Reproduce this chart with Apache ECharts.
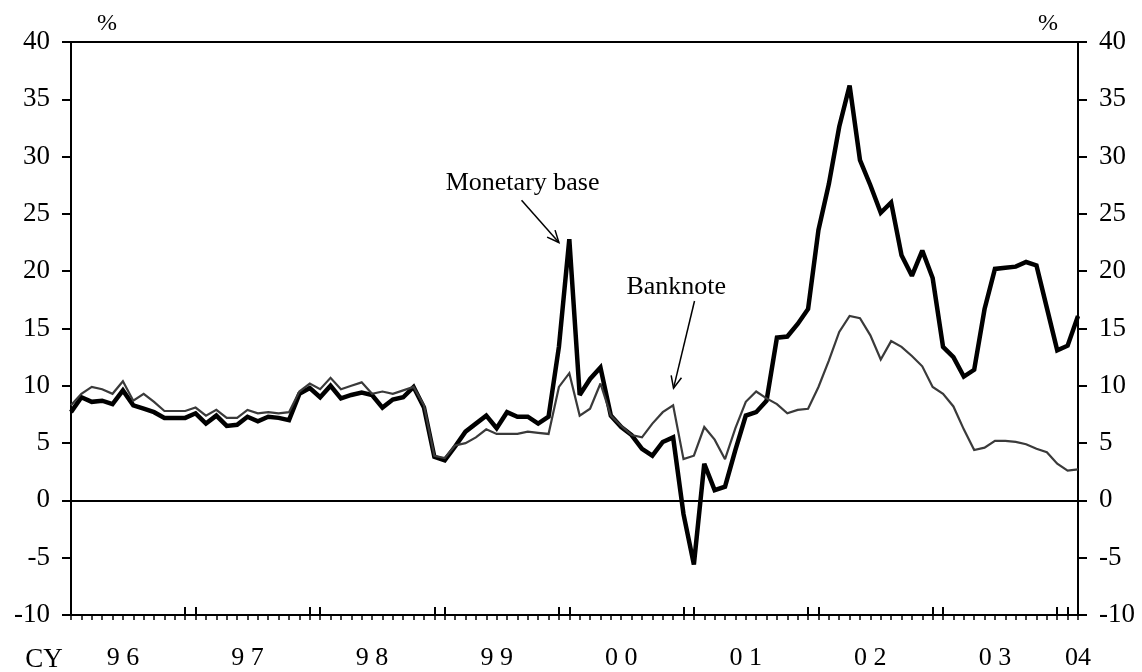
<!DOCTYPE html>
<html>
<head>
<meta charset="utf-8">
<script src="https://cdn.jsdelivr.net/npm/echarts@6/dist/echarts.min.js"></script>
<style>
html,body{margin:0;padding:0;background:#fff;}
#c{width:1142px;height:672px;}
</style>
</head>
<body>
<div id="c"></div>
<script>
// Monthly categories, Jan 1996 .. Feb 2004
const categories = [];
for (let y = 1996; y <= 2004; y++) {
  for (let m = 1; m <= 12; m++) {
    if (y === 2004 && m > 2) break;
    categories.push(y + '-' + (m < 10 ? '0' + m : m));
  }
}

// Year-on-year % change
const monetaryBase = [
  7.7, 9.0, 8.6, 8.7, 8.4, 9.6, 8.3, 8.0, 7.7, 7.2,
  7.2, 7.2, 7.6, 6.7, 7.4, 6.5, 6.6, 7.3, 6.9, 7.3,
  7.2, 7.0, 9.3, 9.8, 9.0, 10.0, 8.9, 9.2, 9.4, 9.2,
  8.1, 8.8, 9.0, 9.9, 8.1, 3.8, 3.5, 4.7, 6.0, 6.7,
  7.4, 6.3, 7.7, 7.3, 7.3, 6.7, 7.3, 13.4, 22.8, 9.2,
  10.6, 11.6, 7.4, 6.4, 5.7, 4.5, 3.9, 5.1, 5.5, -1.2,
  -5.6, 3.2, 0.9, 1.2, 4.4, 7.4, 7.7, 8.7, 14.2, 14.3,
  15.4, 16.7, 23.6, 27.6, 32.6, 36.2, 29.7, 27.5, 25.1, 26.0,
  21.4, 19.6, 21.8, 19.4, 13.4, 12.5, 10.8, 11.4, 16.7, 20.2,
  20.3, 20.4, 20.8, 20.5, 16.8, 13.1, 13.5, 16.1
];

const banknote = [
  8.3, 9.3, 9.9, 9.7, 9.3, 10.4, 8.7, 9.3, 8.6, 7.8,
  7.8, 7.8, 8.1, 7.4, 7.9, 7.2, 7.2, 7.9, 7.6, 7.7,
  7.6, 7.7, 9.5, 10.2, 9.7, 10.7, 9.7, 10.0, 10.3, 9.3,
  9.5, 9.3, 9.6, 9.9, 8.3, 3.9, 3.7, 4.8, 5.0, 5.5,
  6.2, 5.8, 5.8, 5.8, 6.0, 5.9, 5.8, 9.9, 11.1, 7.4,
  8.0, 10.2, 7.4, 6.5, 5.7, 5.5, 6.7, 7.7, 8.3, 3.6,
  3.9, 6.4, 5.3, 3.6, 6.3, 8.6, 9.5, 8.9, 8.4, 7.6,
  7.9, 8.0, 9.9, 12.2, 14.7, 16.1, 15.9, 14.4, 12.3, 13.9,
  13.4, 12.6, 11.7, 9.9, 9.3, 8.2, 6.2, 4.4, 4.6, 5.2,
  5.2, 5.1, 4.9, 4.5, 4.2, 3.2, 2.6, 2.7
];

// Year tick labels and the category index they sit under
const yearLabels = ['9 6', '9 7', '9 8', '9 9', '0 0', '0 1', '0 2', '0 3', '04'];
const yearLabelIndex = [5, 17, 29, 41, 53, 65, 77, 89, 97];

const labelMap = {};
yearLabels.forEach((t, k) => { labelMap[yearLabelIndex[k]] = t; });

const FONT = '"Liberation Serif", "Times New Roman", serif';

const option = {
  animation: false,
  backgroundColor: '#fff',
  grid: { left: 71, right: 64, top: 42, bottom: 57, containLabel: false },
  xAxis: [
    {
      type: 'category', data: categories, position: 'bottom', boundaryGap: false,
      axisLine: { show: true, onZero: false, lineStyle: { color: '#000', width: 2 } },
      axisTick: { show: true, interval: 0, length: 5, lineStyle: { color: '#000', width: 1.5 } },
      axisLabel: {
        interval: (i) => labelMap[i] !== undefined,
        formatter: (v, i) => labelMap[i] || '',
        fontFamily: FONT, fontSize: 26, color: '#000', margin: 30
      },
      splitLine: { show: false }
    },
    {
      type: 'category', data: categories, position: 'bottom', boundaryGap: false,
      axisLine: { show: false, onZero: false },
      axisTick: {
        show: true, inside: true, length: 8,
        interval: (i) => i > 0 && (i % 12 === 11 || i % 12 === 0),
        lineStyle: { color: '#000', width: 2 }
      },
      axisLabel: { show: false },
      splitLine: { show: false }
    },
    {
      type: 'category', data: categories, position: 'top', boundaryGap: false,
      axisLine: { show: true, onZero: false, lineStyle: { color: '#000', width: 2 } },
      axisTick: { show: false }, axisLabel: { show: false }, splitLine: { show: false }
    },
    {
      type: 'value', min: 0, max: categories.length - 1, show: false, position: 'bottom'
    }
  ],
  yAxis: [
    {
      type: 'value', min: -10, max: 40, interval: 5, position: 'left',
      axisLine: { show: true, onZero: false, lineStyle: { color: '#000', width: 2 } },
      axisTick: { show: true, length: 9, lineStyle: { color: '#000', width: 2 } },
      axisLabel: { fontFamily: FONT, fontSize: 27, color: '#000', margin: 21 },
      splitLine: { show: false }
    },
    {
      type: 'value', min: -10, max: 40, interval: 5, position: 'right',
      axisLine: { show: true, onZero: false, lineStyle: { color: '#000', width: 2 } },
      axisTick: { show: true, length: 9, lineStyle: { color: '#000', width: 2 } },
      axisLabel: { fontFamily: FONT, fontSize: 27, color: '#000', margin: 21 },
      splitLine: { show: false }
    }
  ],
  series: [
    {
      name: 'Monetary base', type: 'line', data: monetaryBase,
      xAxisIndex: 0, yAxisIndex: 0, symbol: 'none', z: 3,
      lineStyle: { color: '#000', width: 4.5, join: 'miter', miterLimit: 2.2 },
      markLine: {
        silent: true, symbol: 'none', label: { show: false },
        lineStyle: { color: '#000', width: 2, type: 'solid' },
        data: [{ yAxis: 0 }]
      }
    },
    {
      name: 'Banknote', type: 'line', data: banknote,
      xAxisIndex: 0, yAxisIndex: 0, symbol: 'none', z: 4,
      lineStyle: { color: '#3a3a3a', width: 2.2, join: 'miter', miterLimit: 2.5 }
    }
  ]
};

const chart = echarts.init(document.getElementById('c'));
chart.setOption(option);

// Annotations defined in data coordinates (x = month index, y = %)
const annotations = [
  { text: 'Monetary base', at: [43.5, 27.7], from: [43.4, 26.2], to: [47.0, 22.5] },
  { text: 'Banknote', at: [58.3, 18.6], from: [60.06, 17.4], to: [58.04, 9.8] }
];

function px(p) { return chart.convertToPixel({ xAxisIndex: 3, yAxisIndex: 0 }, p); }

const graphics = [];
annotations.forEach(a => {
  const c = px(a.at), f = px(a.from), t = px(a.to);
  graphics.push({
    type: 'text', x: c[0], y: c[1],
    style: { text: a.text, font: '26px ' + FONT, fill: '#000', align: 'center', verticalAlign: 'middle' }
  });
  const ang = Math.atan2(t[1] - f[1], t[0] - f[0]);
  const L = 13, sp = 0.42;
  const w1 = [t[0] - L * Math.cos(ang - sp), t[1] - L * Math.sin(ang - sp)];
  const w2 = [t[0] - L * Math.cos(ang + sp), t[1] - L * Math.sin(ang + sp)];
  graphics.push({ type: 'polyline', shape: { points: [f, t] }, style: { stroke: '#000', lineWidth: 1.5, fill: null } });
  graphics.push({ type: 'polyline', shape: { points: [w1, t, w2] }, style: { stroke: '#000', lineWidth: 1.5, fill: null } });
});

// Unit and axis-title labels
graphics.push({ type: 'text', x: 107, y: 24, style: { text: '%', font: '24px ' + FONT, fill: '#000', align: 'center', verticalAlign: 'middle' } });
graphics.push({ type: 'text', x: 1048, y: 24, style: { text: '%', font: '24px ' + FONT, fill: '#000', align: 'center', verticalAlign: 'middle' } });
graphics.push({ type: 'text', x: 44, y: 660, style: { text: 'CY', font: '27px ' + FONT, fill: '#000', align: 'center', verticalAlign: 'middle' } });

chart.setOption({ graphic: graphics });
</script>
</body>
</html>
